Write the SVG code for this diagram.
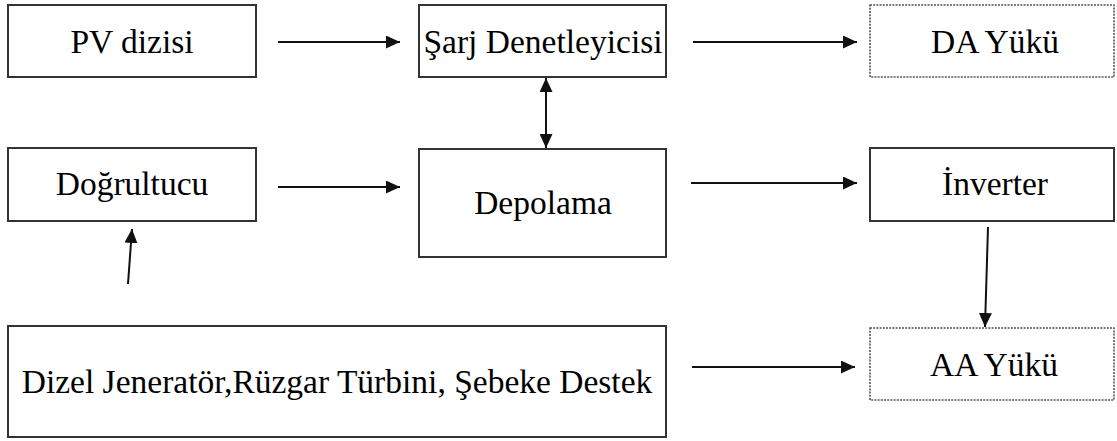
<svg xmlns="http://www.w3.org/2000/svg" width="1117" height="441" viewBox="0 0 1117 441">
  <defs>
    <marker id="ah" markerUnits="userSpaceOnUse" markerWidth="15" markerHeight="13" refX="14" refY="6.5" orient="auto-start-reverse">
      <path d="M0,0 L14,6.5 L0,13 z" fill="#111"/>
    </marker>
    <style>
      .box { fill: #fff; stroke: #333; stroke-width: 2; }
      .dbox { fill: #fff; stroke: #555; stroke-width: 1.6; stroke-dasharray: 2 1.2; }
      .lbl { font-family: "Liberation Serif", "Times New Roman", serif; font-size: 33.5px; fill: #000; text-anchor: middle; }
      .con { stroke: #111; stroke-width: 2; fill: none; marker-end: url(#ah); }
    </style>
  </defs>
  <rect width="1117" height="441" fill="#fff"/>

  <g id="pv">
    <rect class="box" x="8" y="5" width="248" height="72"/>
    <text class="lbl" x="132" y="53">PV dizisi</text>
  </g>
  <g id="sarj">
    <rect class="box" x="419" y="5" width="247" height="72"/>
    <text class="lbl" x="543" y="53">Şarj Denetleyicisi</text>
  </g>
  <g id="da">
    <rect class="dbox" x="870" y="5" width="244" height="72"/>
    <text class="lbl" x="995" y="53">DA Yükü</text>
  </g>
  <g id="dogrultucu">
    <rect class="box" x="8" y="148" width="248" height="73"/>
    <text class="lbl" x="132" y="195">Doğrultucu</text>
  </g>
  <g id="depolama">
    <rect class="box" x="419" y="149" width="247" height="108"/>
    <text class="lbl" x="543" y="214">Depolama</text>
  </g>
  <g id="inverter">
    <rect class="box" x="870" y="148" width="244" height="73"/>
    <text class="lbl" x="995" y="195">İnverter</text>
  </g>
  <g id="dizel">
    <rect class="box" x="8" y="326" width="658" height="111"/>
    <text class="lbl" x="337" y="393">Dizel Jeneratör,Rüzgar Türbini, Şebeke Destek</text>
  </g>
  <g id="aa">
    <rect class="dbox" x="870" y="328" width="244" height="72"/>
    <text class="lbl" x="994" y="376">AA Yükü</text>
  </g>

  <g id="connectors">
    <line class="con" x1="278" y1="42" x2="400" y2="42"/>
    <line class="con" x1="693" y1="42" x2="857" y2="42"/>
    <line class="con" x1="546" y1="78" x2="546" y2="148" marker-start="url(#ah)"/>
    <line class="con" x1="278" y1="187" x2="400" y2="187"/>
    <line class="con" x1="691" y1="183" x2="857" y2="183"/>
    <line class="con" x1="128" y1="284" x2="132" y2="229"/>
    <line class="con" x1="988" y1="227" x2="985" y2="327"/>
    <line class="con" x1="692" y1="367" x2="855" y2="367"/>
  </g>
</svg>
